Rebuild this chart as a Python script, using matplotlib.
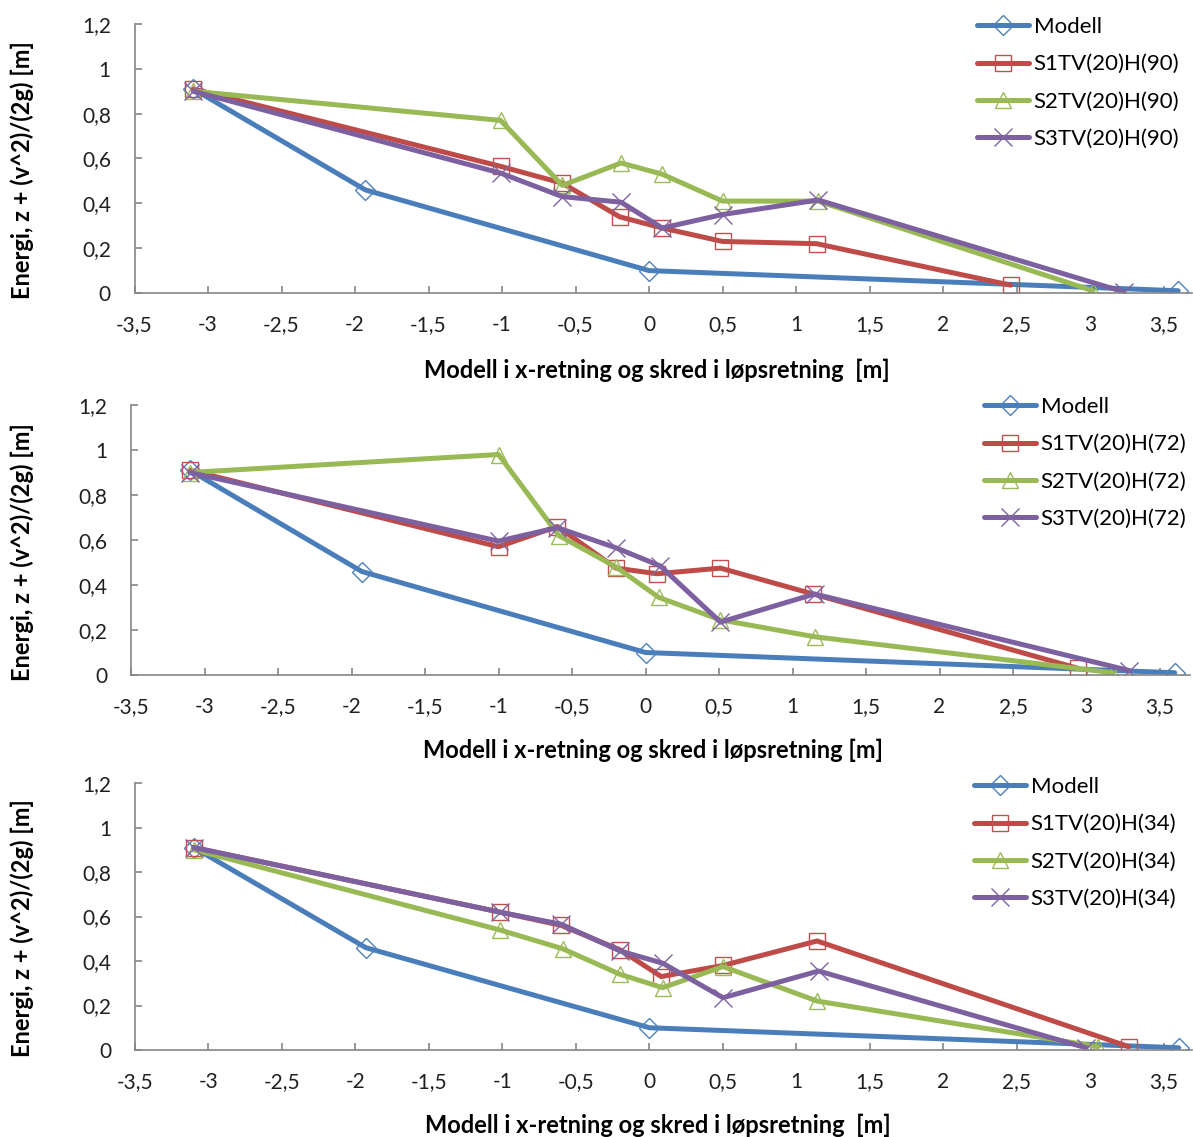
import numpy as np
import matplotlib
matplotlib.use("Agg")
import matplotlib.pyplot as plt
import matplotlib.ticker as ticker

plt.rcParams['font.family'] = ['Lato', 'DejaVu Sans']

# Modell (same in all three panels)
modell_x = [-3.1, -1.93, 0.0, 3.6]
modell_y = [0.91, 0.46, 0.10, 0.01]

# panel 1: H(90)
p1_s1_x = [-3.1, -1.01, -0.59, -0.2, 0.09, 0.5, 1.14, 2.46]
p1_s1_y = [0.91, 0.565, 0.49, 0.34, 0.29, 0.23, 0.22, 0.035]
p1_s2_x = [-3.1, -1.01, -0.59, -0.19, 0.09, 0.5, 1.15, 3.02]
p1_s2_y = [0.90, 0.77, 0.48, 0.58, 0.53, 0.41, 0.41, 0.01]
p1_s3_x = [-3.1, -1.01, -0.59, -0.19, 0.09, 0.5, 1.15, 3.23]
p1_s3_y = [0.90, 0.535, 0.43, 0.405, 0.29, 0.35, 0.415, 0.005]

# panel 2: H(72)
p2_s1_x = [-3.1, -1.0, -0.6, -0.2, 0.08, 0.51, 1.14, 2.94]
p2_s1_y = [0.91, 0.57, 0.66, 0.475, 0.45, 0.475, 0.36, 0.03]
p2_s2_x = [-3.1, -1.0, -0.59, -0.2, 0.09, 0.51, 1.15, 3.18]
p2_s2_y = [0.90, 0.98, 0.62, 0.48, 0.345, 0.245, 0.17, 0.01]
p2_s3_x = [-3.1, -1.0, -0.6, -0.2, 0.1, 0.51, 1.15, 3.29]
p2_s3_y = [0.90, 0.595, 0.655, 0.565, 0.485, 0.235, 0.36, 0.02]

# panel 3: H(34)
p3_s1_x = [-3.1, -1.02, -0.6, -0.2, 0.08, 0.5, 1.14, 3.26]
p3_s1_y = [0.91, 0.62, 0.56, 0.45, 0.33, 0.38, 0.49, 0.015]
p3_s2_x = [-3.1, -1.02, -0.59, -0.2, 0.09, 0.5, 1.14, 3.05]
p3_s2_y = [0.90, 0.54, 0.455, 0.34, 0.28, 0.375, 0.22, 0.015]
p3_s3_x = [-3.1, -1.02, -0.6, -0.2, 0.09, 0.5, 1.15, 2.97]
p3_s3_y = [0.91, 0.62, 0.565, 0.445, 0.39, 0.235, 0.355, 0.01]

x_ticks = np.arange(-3.5, 3.51, 0.5)
y_ticks = np.arange(0, 1.21, 0.2)

line_cols = ['#4A7EBB', '#BE4B48', '#98B954', '#7D60A0']
mark_cols = ['#4F81BD', '#C0504D', '#9BBB59', '#8064A2']
markers = ['D', 's', '^', 'x']
msizes = [10, 12, 12, 13]

panels = [
    ('90', [(p1_s1_x, p1_s1_y), (p1_s2_x, p1_s2_y), (p1_s3_x, p1_s3_y)],
     [134.5, 24, 1192, 293], (977, 17), (657, 370),
     "Modell i x-retning og skred i løpsretning  [m]"),
    ('72', [(p2_s1_x, p2_s1_y), (p2_s2_x, p2_s2_y), (p2_s3_x, p2_s3_y)],
     [131, 405, 1190, 675], (984, 397), (653, 750),
     "Modell i x-retning og skred i løpsretning [m]"),
    ('34', [(p3_s1_x, p3_s1_y), (p3_s2_x, p3_s2_y), (p3_s3_x, p3_s3_y)],
     [135, 783, 1192, 1050], (974, 777), (658, 1125),
     "Modell i x-retning og skred i løpsretning  [m]"),
]

W, H = 1193, 1137
fig = plt.figure(figsize=(W / 100, H / 100), dpi=100)

def comma(v, pos):
    s = "%g" % round(v, 2)
    return s.replace('.', ',')

for h, series, box, leg_xy, xl_xy, xlabel in panels:
    x0, y0, x1, y1 = box
    ax = fig.add_axes([x0 / W, 1 - y1 / H, (x1 - x0) / W, (y1 - y0) / H])
    names = ["Modell"] + ["S%dTV(20)H(%s)" % (i + 1, h) for i in range(3)]
    data = [(modell_x, modell_y)] + series
    for k, (xs, ys) in enumerate(data):
        ax.plot(xs, ys, color=line_cols[k], lw=3.6, marker=markers[k],
                ms=msizes[k], mfc='none', mec=mark_cols[k], mew=1.0,
                label=names[k], solid_capstyle='round', solid_joinstyle='round')
    ax.set_xlim(-3.5, -3.5 + (x1 - x0) / 147.0)
    ax.set_ylim(0, 1.2)
    ax.set_xticks(x_ticks)
    ax.set_yticks(y_ticks)
    ax.xaxis.set_major_formatter(ticker.FuncFormatter(comma))
    ax.yaxis.set_major_formatter(ticker.FuncFormatter(comma))
    for s in ['top', 'right']:
        ax.spines[s].set_visible(False)
    for s in ['left', 'bottom']:
        ax.spines[s].set_color('#868686')
        ax.spines[s].set_linewidth(1.2)
    ax.tick_params(direction='in', length=5, width=1.2, color='#868686',
                   labelsize=15, labelcolor='#202020')
    ax.tick_params(axis='x', pad=16)
    ax.tick_params(axis='y', pad=17)
    ax.patch.set_alpha(0)

    leg = ax.legend(loc='upper left', bbox_to_anchor=(leg_xy[0] / W, 1 - leg_xy[1] / H),
                    bbox_transform=fig.transFigure, frameon=False, fontsize=16,
                    handlelength=2.35, handletextpad=0.2, borderaxespad=0,
                    borderpad=0, labelspacing=0.78)

    fig.text(xl_xy[0] / W, 1 - xl_xy[1] / H, xlabel, ha='center', va='center',
             fontsize=17, fontweight='bold')
    fig.text(22 / W, 1 - ((y0 + y1) / 2 + 12) / H, "Energi, z + (v^2)/(2g) [m]",
             rotation=90, ha='center', va='center', fontsize=17, fontweight='bold')

fig.savefig('out.png', dpi=100)
